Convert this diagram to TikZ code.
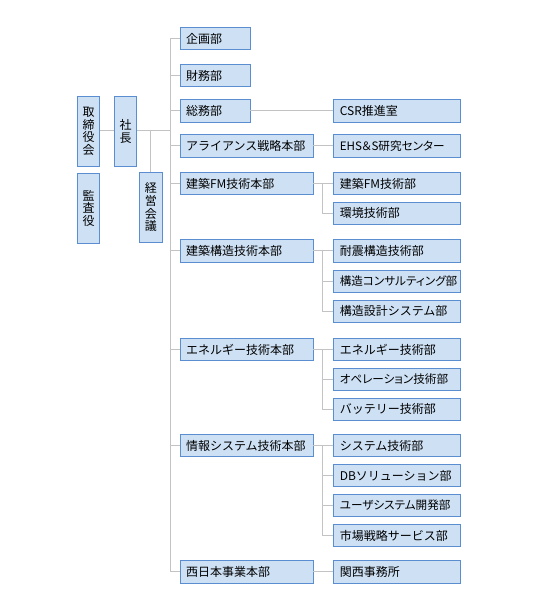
\documentclass[tikz,border=0pt]{standalone}
\usepackage{fontspec}
\setmainfont{Noto Sans CJK JP}
\newfontfamily\propfont{Noto Sans CJK JP}[RawFeature=+palt]
\usepackage{tikz}

\definecolor{boxfill}{HTML}{CDE0F4}
\definecolor{boxline}{HTML}{5B8ED0}
\definecolor{connline}{HTML}{C3C3C3}

\tikzset{
  orgbox/.style={draw=boxline, fill=boxfill, line width=0.9pt, minimum height=22.5pt,
    inner ysep=0pt, inner xsep=6pt, align=left, font=\fontsize{12}{14}\selectfont},
  ka/.style={orgbox, text width=58pt},
  honbu/.style={orgbox, text width=121pt},
  bu/.style={orgbox, text width=115pt},
  narrow/.style={font=\propfont\fontsize{11.6}{14}\selectfont},
  tatebox/.style={draw=boxline, fill=boxfill, line width=0.9pt, minimum width=22.5pt,
    minimum height=70pt, inner sep=0pt, align=center, font=\fontsize{12}{12.6}\selectfont},
  conn/.style={draw=connline, line width=0.9pt},
}

\begin{document}
\begin{tikzpicture}[x=1pt, y=-1pt]
  \useasboundingbox (0,0) rectangle (537,610);

  % top management
  \node[tatebox] (torishimari) at (88.5,131.3) {取\\締\\役\\会};
  \node[tatebox] (kansa) at (88.5,208.3) {監\\査\\役};
  \node[tatebox] (shacho) at (125.5,131.3) {社\\長};
  \node[tatebox] (keiei) at (150.8,207.3) {経\\営\\会\\議};

  % divisions
  \node[ka] (kikaku) at (215,38.5) {企画部};
  \node[ka] (zaimu) at (215,75.5) {財務部};
  \node[ka] (somu) at (215,110.8) {総務部};
  \node[honbu] (alliance) at (246.5,145.8) {アライアンス戦略本部};
  \node[honbu] (kenfm) at (246.5,183.5) {建築FM技術本部};
  \node[honbu] (kozo) at (246.5,250.7) {建築構造技術本部};
  \node[honbu] (energy) at (246.5,349.5) {エネルギー技術本部};
  \node[honbu] (joho) at (246.5,445.5) {情報システム技術本部};
  \node[honbu] (nishi) at (246.5,571.7) {西日本事業本部};

  % departments
  \node[bu] (csr) at (397.3,110.8) {CSR推進室};
  \node[bu, narrow] (ehs) at (397.3,145.8) {EHS＆S研究センター};
  \node[bu] (kenfmbu) at (397.3,183.5) {建築FM技術部};
  \node[bu] (kankyo) at (397.3,213.3) {環境技術部};
  \node[bu] (taishin) at (397.3,250.7) {耐震構造技術部};
  \node[bu, narrow] (kozocons) at (397.3,281.3) {構造コンサルティング部};
  \node[bu] (kozosekkei) at (397.3,311.3) {構造設計システム部};
  \node[bu] (energybu) at (397.3,349.5) {エネルギー技術部};
  \node[bu, narrow] (operation) at (397.3,379.3) {オペレーション技術部};
  \node[bu] (battery) at (397.3,409.2) {バッテリー技術部};
  \node[bu] (system) at (397.3,445.5) {システム技術部};
  \node[bu] (dbsol) at (397.3,475.5) {DBソリューション部};
  \node[bu, narrow] (usersys) at (397.3,505.5) {ユーザシステム開発部};
  \node[bu] (shijo) at (397.3,535.5) {市場戦略サービス部};
  \node[bu] (kansai) at (397.3,571.7) {関西事務所};

  % trunk
  \coordinate (trunktop) at (170,38.5);
  \coordinate (trunkbot) at (170,571.7);
  \coordinate (shachoknot) at (170,130.5);
  \coordinate (keieiknot) at (150.8,130.5);
  \draw[conn] (trunktop) -- (trunkbot);
  \draw[conn] (torishimari.east |- shachoknot) -- (shacho.west |- shachoknot);
  \draw[conn] (shacho.east |- shachoknot) -- (shachoknot);
  \draw[conn] (keieiknot) -- (keiei.north);
  \foreach \n in {kikaku,zaimu,somu,alliance,kenfm,kozo,energy,joho,nishi}
    \draw[conn] (trunktop |- \n.west) -- (\n.west);

  % branches to departments
  \draw[conn] (somu.east) -- (csr.west);
  \draw[conn] (alliance.east) -- (ehs.west);
  \draw[conn] (nishi.east) -- (kansai.west);
  \draw[conn] (kenfm.east) -- (kenfmbu.west);
  \draw[conn] (kozo.east) -- (taishin.west);
  \draw[conn] (energy.east) -- (energybu.west);
  \draw[conn] (joho.east) -- (system.west);
  \draw[conn] (322,183.5) |- (kankyo.west);
  \draw[conn] (322,250.7) |- (kozosekkei.west);
  \draw[conn] (322,281.3) -- (kozocons.west);
  \draw[conn] (322,349.5) |- (battery.west);
  \draw[conn] (322,379.3) -- (operation.west);
  \draw[conn] (322,445.5) |- (shijo.west);
  \draw[conn] (322,475.5) -- (dbsol.west);
  \draw[conn] (322,505.5) -- (usersys.west);
\end{tikzpicture}
\end{document}
